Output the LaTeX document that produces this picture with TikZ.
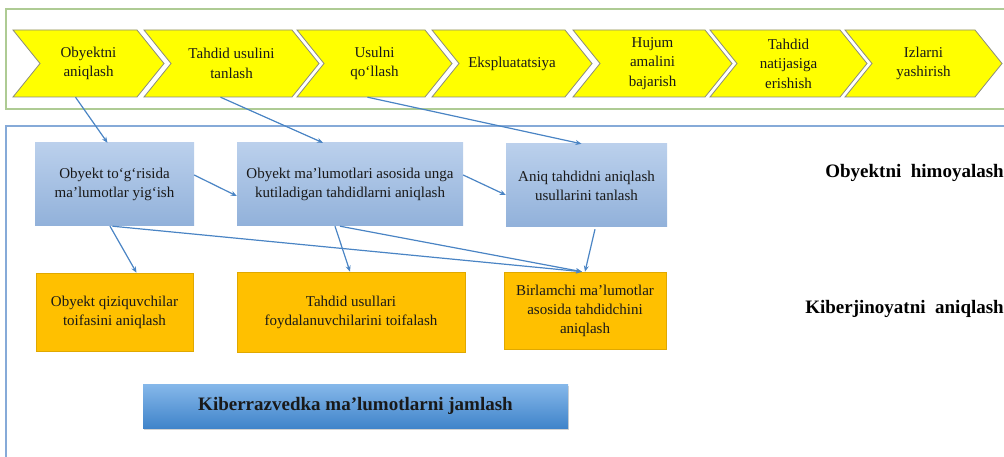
\documentclass[tikz,border=0pt]{standalone}
\usepackage{fontspec}
\setmainfont{Liberation Serif}
\usetikzlibrary{arrows.meta,shadows}

\definecolor{chevYellow}{HTML}{FFFF00}
\definecolor{chevLine}{HTML}{8C8C7C}
\definecolor{frameGreen}{HTML}{AECB94}
\definecolor{frameBlue}{HTML}{86AAD8}
\definecolor{arrowBlue}{HTML}{4A84C4}
\definecolor{stepTop}{HTML}{BBD0EC}
\definecolor{stepBot}{HTML}{91B1DA}
\definecolor{resOrange}{HTML}{FFC000}
\definecolor{resLine}{HTML}{E0A800}
\definecolor{barTop}{HTML}{86B8EA}
\definecolor{barBot}{HTML}{4084CA}

\newcommand{\drawChevron}[4]{\filldraw[chevron] (#2,30) -- (#3,30) -- (#3+27,63.5) -- (#3,97) -- (#2,97) -- (#2+27,63.5) -- cycle;
    \node[chevtext] (#1) at ({(#2+27+#3)/2},63.5) {#4};}

\begin{document}
\begin{tikzpicture}[x=1pt, y=-1pt,
    chevron/.style={fill=chevYellow, draw=chevLine, line width=0.8pt},
    chevtext/.style={align=center, minimum height=67pt, inner sep=0pt, text=black!90, font=\fontsize{15}{19.5}\selectfont},
    stepbox/.style={top color=stepTop, bottom color=stepBot, draw=none, align=center, text=black!90, font=\fontsize{15}{19}\selectfont},
    resbox/.style={fill=resOrange, draw=resLine, line width=0.6pt, align=center, text=black!90, font=\fontsize{15}{19}\selectfont},
    link/.style={draw=arrowBlue, line width=1.2pt, -{Stealth[length=6pt,width=5pt]}},
    sidetext/.style={font=\fontsize{19}{22}\selectfont\bfseries, inner sep=0pt}]

    \useasboundingbox (0,0) rectangle (1004,457);

    % frames
    \draw[frameGreen, line width=1.5pt] (1004,9) -| (6,109) -- (1004,109);
    \draw[frameBlue, line width=1.5pt] (1004,126) -| (6,457);

    % stages of the attack
    \drawChevron{detect}{13}{137}{Obyektni\\aniqlash}
    \drawChevron{choose}{144}{292}{Tahdid usulini\\tanlash}
    \drawChevron{apply}{297}{425}{Usulni\\qo‘llash}
    \drawChevron{exploit}{432}{565}{Ekspluatatsiya}
    \drawChevron{attack}{573}{705}{Hujum\\amalini\\bajarish}
    \drawChevron{result}{710}{840}{Tahdid\\natijasiga\\erishish}
    \drawChevron{hide}{845}{975}{Izlarni\\yashirish}

    % protection steps
    \node[stepbox, minimum width=159pt, minimum height=83pt] (collect) at (114.5,184.5) {Obyekt to‘g‘risida\\ma’lumotlar yig‘ish};
    \node[stepbox, minimum width=226pt, minimum height=83pt] (threats) at (350,184.5) {Obyekt ma’lumotlari asosida unga\\kutiladigan tahdidlarni aniqlash};
    \node[stepbox, minimum width=161pt, minimum height=83pt] (methods) at (586.5,185.5) {Aniq tahdidni aniqlash\\usullarini tanlash};

    \node[resbox, minimum width=157pt, minimum height=78pt] (intruders) at (114.5,312) {Obyekt qiziquvchilar\\toifasini aniqlash};
    \node[resbox, minimum width=228pt, minimum height=80pt] (users) at (351,312) {Tahdid usullari\\foydalanuvchilarini toifalash};
    \node[resbox, minimum width=162pt, minimum height=77pt] (attacker) at (585,310.5) {Birlamchi ma’lumotlar\\asosida tahdidchini\\aniqlash};

    \node[top color=barTop, bottom color=barBot, drop shadow={opacity=0.35, shadow xshift=1pt, shadow yshift=-2pt},
          minimum width=425pt, minimum height=44pt, font=\fontsize{19}{22}\selectfont\bfseries, text=black!90] (summary) at (355.5,406) {Kiberrazvedka ma’lumotlarni jamlash};

    \node[sidetext, anchor=east] (protect) at (1004,173) {Obyektni\ \ himoyalash};
    \node[sidetext, anchor=east] (crime) at (1004,309) {Kiberjinoyatni\ \ aniqlash};

    % arrows from the stages
    \draw[link] ([xshift=-13pt]detect.south) -- ([xshift=-7pt]collect.north);
    \draw[link] ([xshift=-11pt]choose.south) -- ([xshift=-27pt]threats.north);
    \draw[link] ([xshift=-7pt]apply.south) -- ([xshift=-5pt]methods.north);

    % arrows between the boxes
    \draw[link] ([yshift=9.5pt]collect.east) -- ([yshift=-11.5pt]threats.west);
    \draw[link] ([yshift=9.5pt]threats.east) -- ([yshift=-9.5pt]methods.west);
    \draw[link] ([xshift=-4.5pt]collect.south) -- ([xshift=22pt]intruders.north);
    \draw[link] ([xshift=-2pt]collect.south) -- ([xshift=-3pt]attacker.north);
    \draw[link] ([xshift=-15pt]threats.south) -- ([xshift=-1pt]users.north);
    \draw[link] ([xshift=-10pt]threats.south) -- ([xshift=-3pt]attacker.north);
    \draw[link] ([xshift=8.5pt,yshift=-2pt]methods.south) -- (attacker.north);

\end{tikzpicture}
\end{document}
